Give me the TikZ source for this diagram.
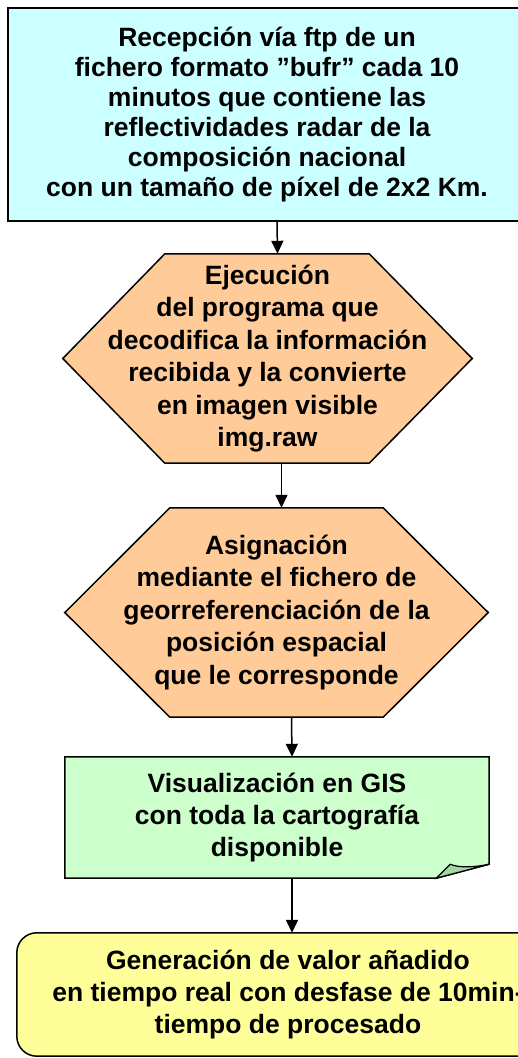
\documentclass[tikz,border=0pt]{standalone}
\usepackage{fontspec}
\setmainfont{Liberation Sans}
\usepackage{tikz}
\usetikzlibrary{positioning, shapes, arrows.meta}
\usetikzlibrary{backgrounds}

\definecolor{cyanbox}{HTML}{CCFFFF}
\definecolor{peach}{HTML}{FFCC99}
\definecolor{greenbox}{HTML}{CCFFCC}
\definecolor{greenfold}{HTML}{A6D6A6}
\definecolor{yellowbox}{HTML}{FFFF99}

\begin{document}
\begin{tikzpicture}[x=1pt, y=-1pt,
    txt/.style={align=center, inner sep=0pt, font=\fontsize{26.5}{32.5}\selectfont\bfseries},
    edge/.style={line width=1.5pt, -{Triangle[width=12pt,length=13pt]}},
    outline/.style={draw=black, line width=1.5pt}]
            \useasboundingbox (0,0) rectangle (518,1058);

            \node[txt, minimum width=518pt, minimum height=213pt,
                  font=\fontsize{26.5}{30}\selectfont\bfseries] (recepcion) at (267,114.5)
                {Recepción vía ftp de un\\ fichero formato ”bufr” cada 10\\ minutos que contiene las\\
                 reflectividades radar de la\\ composición nacional\\ con un tamaño de píxel de 2x2 Km.};
            \node[txt, minimum width=409pt, minimum height=209pt] (ejecucion) at (267.5,358.5)
                {Ejecución\\ del programa que\\ decodifica la información\\ recibida y la convierte\\
                 en imagen visible\\ img.raw};
            \node[txt, minimum width=423pt, minimum height=209pt] (asignacion) at (276.5,612.5)
                {Asignación\\ mediante el fichero de\\ georreferenciación de la\\ posición espacial\\
                 que le corresponde};
            \node[txt, minimum width=424pt, minimum height=121pt, font=\fontsize{26.5}{32}\selectfont\bfseries] (gis) at (277,817.5)
                {Visualización en GIS\\ con toda la cartografía\\ disponible};
            \node[txt, minimum width=542pt, minimum height=123pt, font=\fontsize{26.5}{32}\selectfont\bfseries] (valor) at (288,994.5)
                {Generación de valor añadido\\ en tiempo real con desfase de 10min-\\ tiempo de procesado};

            % Draw edges
            \draw[edge] ([xshift=10pt]recepcion.south) -- ([xshift=10pt]ejecucion.north);
            \draw[edge] ([xshift=14pt]ejecucion.south) -- ([xshift=5pt]asignacion.north);
            \draw[edge] ([xshift=15pt]asignacion.south) -- ([xshift=15pt]gis.north);
            \draw[edge] ([xshift=15pt]gis.south) -- ([xshift=4pt]valor.north);

            \begin{scope}[on background layer]
                \clip (0,0) rectangle (518,1058);
                \filldraw[cyanbox, outline] (recepcion.north west) -- ([xshift=40pt]recepcion.north east)
                    -- ([xshift=40pt]recepcion.south east) -- (recepcion.south west) -- cycle;
                \filldraw[yellowbox, outline, rounded corners=20pt] ([xshift=40pt]valor.north east)
                    -- (valor.north west) -- (valor.south west) -- ([xshift=40pt]valor.south east);
            \end{scope}

            \begin{scope}[on background layer]
                \filldraw[peach, outline] ([xshift=102pt]ejecucion.north west) -- ([xshift=-103pt]ejecucion.north east)
                    -- (ejecucion.east) -- ([xshift=-103pt]ejecucion.south east)
                    -- ([xshift=102pt]ejecucion.south west) -- (ejecucion.west) -- cycle;
                \filldraw[peach, outline] ([xshift=105pt]asignacion.north west) -- ([xshift=-105pt]asignacion.north east)
                    -- (asignacion.east) -- ([xshift=-105pt]asignacion.south east)
                    -- ([xshift=105pt]asignacion.south west) -- (asignacion.west) -- cycle;
            \end{scope}

            \begin{scope}[on background layer]
                \filldraw[greenbox, outline] (gis.north west) -- (gis.north east) -- ([yshift=14pt]gis.south east)
                    -- ([xshift=-53pt]gis.south east) -- (gis.south west) -- cycle;
                \filldraw[greenfold, outline, line width=1.2pt] ([xshift=-53pt]gis.south east)
                    -- ([xshift=-39pt,yshift=14pt]gis.south east)
                    .. controls ([xshift=-30pt,yshift=10pt]gis.south east) and ([xshift=-14pt,yshift=11pt]gis.south east)
                    .. ([yshift=14pt]gis.south east) -- cycle;
            \end{scope}
        \end{tikzpicture}
\end{document}
